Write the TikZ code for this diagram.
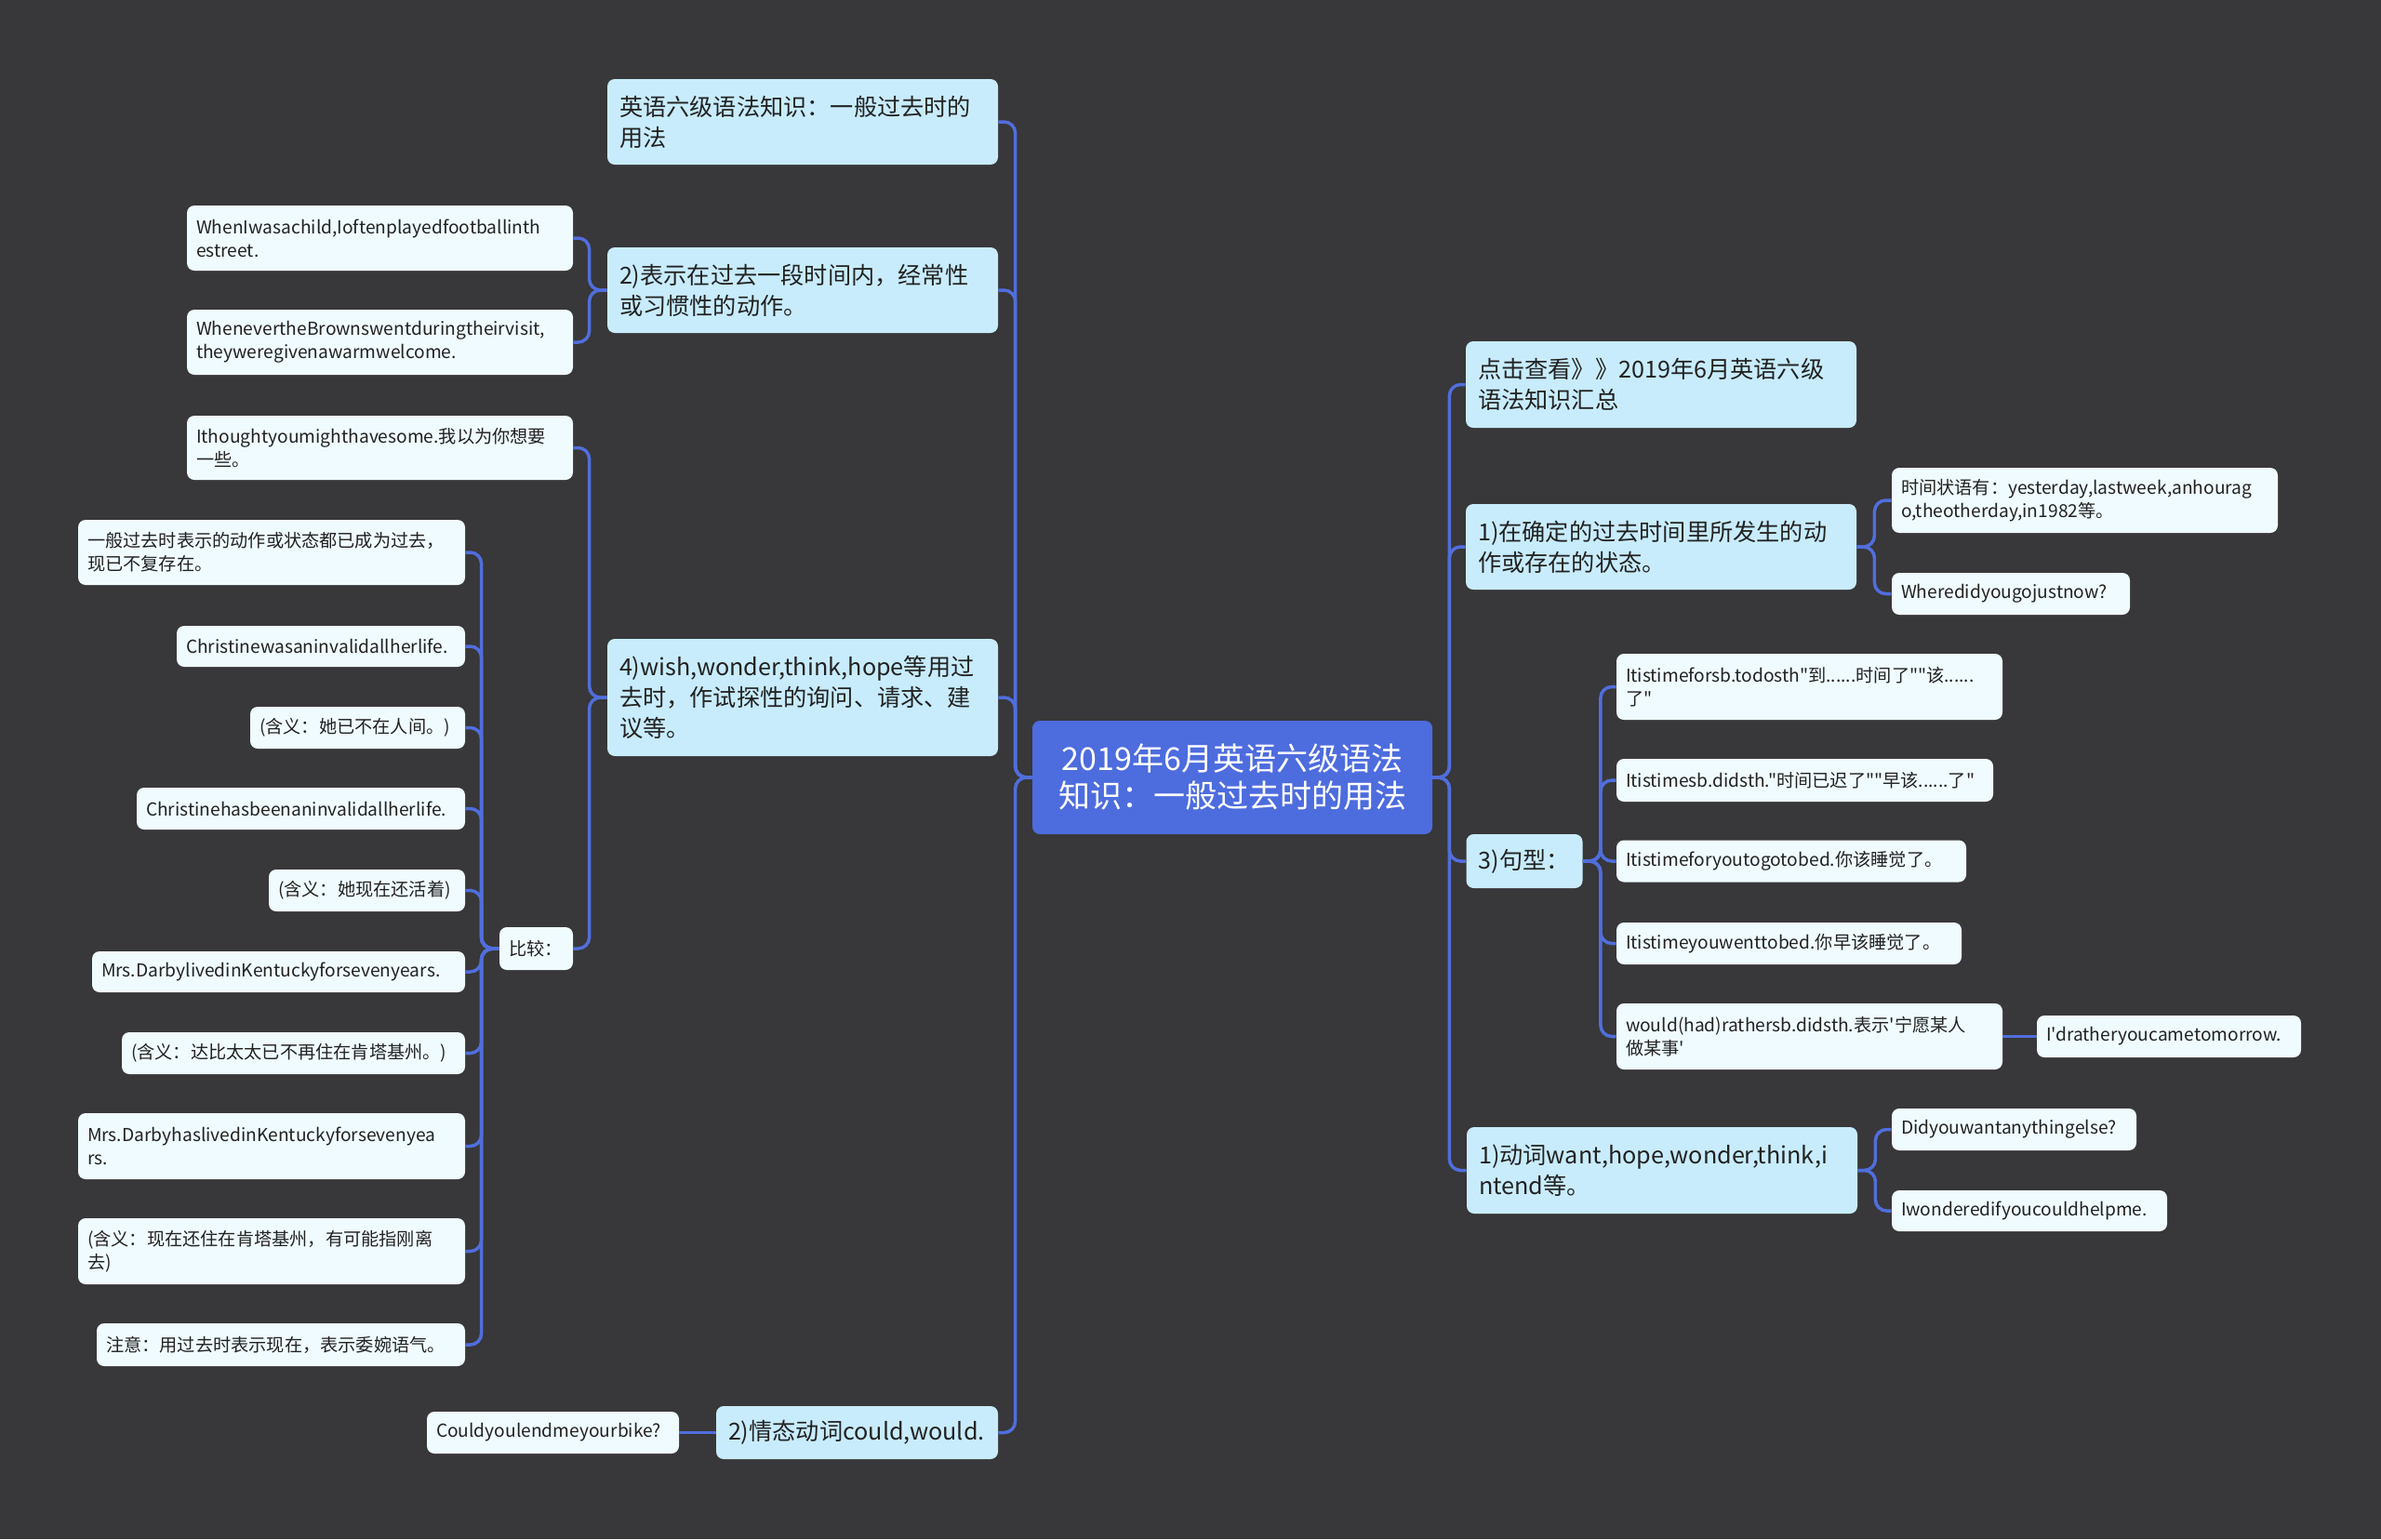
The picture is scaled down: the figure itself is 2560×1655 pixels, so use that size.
\documentclass[tikz,border=0pt]{standalone}
\usepackage{fontspec}
\newfontfamily\cjkfont{Noto Sans CJK SC}
\hyphenpenalty=10000
\exhyphenpenalty=10000

\definecolor{bggray}{RGB}{56,55,57}
\definecolor{rootblue}{RGB}{77,108,222}
\definecolor{topicblue}{RGB}{200,236,252}
\definecolor{leafblue}{RGB}{240,251,255}
\definecolor{linkblue}{RGB}{80,110,220}
\definecolor{inkgray}{RGB}{34,34,34}

\def\boxpad{5pt}
\tikzset{
  base/.style={rounded corners=4pt, inner sep=0pt, align=left, text=inkgray},
  root/.style={base, fill=rootblue, text=white, align=center, font=\cjkfont\fontsize{17}{20}\selectfont},
  topic/.style={base, fill=topicblue, font=\cjkfont\fontsize{12.6}{16.5}\selectfont, /utils/exec={\def\boxpad{6.5pt}}},
  leaf/.style={base, fill=leafblue, font=\cjkfont\fontsize{9.6}{12.5}\selectfont, /utils/exec={\def\boxpad{5pt}}},
  sized/.style 2 args={minimum width=#1*0.5pt, minimum height=#2*0.5pt,
    /utils/exec={\pgfmathsetlengthmacro\boxtext{#1*0.5pt-2*\boxpad}}, text width=\boxtext},
  link/.style={draw=linkblue, line width=1.75pt, rounded corners=6pt}
}

\begin{document}
\begin{tikzpicture}[x=0.5pt,y=-0.5pt]

% Background
\fill[bggray] (0,0) rectangle (2560,1655);

% Central topic
\node[root, sized={430}{122}] (root) at (1325,836) {2019年6月英语六级语法\\知识：一般过去时的用法};

% Left branches
\node[topic, sized={420}{92}] (usage) at (863,131) {英语六级语法知识：一般过去时的\\用法};
\node[topic, sized={420}{92}] (habit) at (863,312) {2)表示在过去一段时间内，经常性\\或习惯性的动作。};
\node[topic, sized={420}{126}] (polite) at (863,750) {4)wish,wonder,think,hope等用过\\去时，作试探性的询问、请求、建\\议等。};
\node[topic, sized={303}{57}] (modal) at (921.5,1540.5) {2)情态动词could,would.};

\node[leaf, sized={415}{70}] (child) at (408.5,256) {WhenIwasachild,Ioftenplayedfootballinth\\estreet.};
\node[leaf, sized={415}{70}] (browns) at (408.5,368) {WhenevertheBrownswentduringtheirvisit,\\theyweregivenawarmwelcome.};
\node[leaf, sized={415}{69}] (thought) at (408.5,481.5) {Ithoughtyoumighthavesome.我以为你想要\\一些。};
\node[leaf, sized={79}{46}] (compare) at (576.5,1020) {比较：};
\node[leaf, sized={271}{45}] (bike) at (594.5,1540.5) {Couldyoulendmeyourbike?};

% Compared sentences
\node[leaf, sized={416}{70}] (past) at (292,594) {一般过去时表示的动作或状态都已成为过去，\\现已不复存在。};
\node[leaf, sized={310}{44}] (wasinvalid) at (345,695) {Christinewasaninvalidallherlife.};
\node[leaf, sized={231}{45}] (notalive) at (384.5,782.5) {(含义：她已不在人间。)};
\node[leaf, sized={353}{45}] (hasbeen) at (323.5,869.5) {Christinehasbeenaninvalidallherlife.};
\node[leaf, sized={211}{45}] (alive) at (394.5,957.5) {(含义：她现在还活着)};
\node[leaf, sized={401}{44}] (lived) at (299.5,1045) {Mrs.DarbylivedinKentuckyforsevenyears.};
\node[leaf, sized={369}{45}] (moved) at (315.5,1132.5) {(含义：达比太太已不再住在肯塔基州。)};
\node[leaf, sized={416}{71}] (haslived) at (292,1232.5) {Mrs.DarbyhaslivedinKentuckyforsevenyea\\rs.};
\node[leaf, sized={416}{71}] (stilllives) at (292,1345.5) {(含义：现在还住在肯塔基州，有可能指刚离\\去)};
\node[leaf, sized={396}{46}] (note) at (302,1446) {注意：用过去时表示现在，表示委婉语气。};

% Right branches
\node[topic, sized={420}{93}] (review) at (1786,413.5) {点击查看》》2019年6月英语六级\\语法知识汇总};
\node[topic, sized={420}{92}] (definite) at (1786,588) {1)在确定的过去时间里所发生的动\\作或存在的状态。};
\node[topic, sized={125}{58}] (pattern) at (1639,926) {3)句型：};
\node[topic, sized={420}{93}] (verbs) at (1787,1258.5) {1)动词want,hope,wonder,think,i\\ntend等。};

\node[leaf, sized={415}{70}] (adverb) at (2241.5,538) {时间状语有：yesterday,lastweek,anhourag\\o,theotherday,in1982等。};
\node[leaf, sized={256}{45}] (where) at (2162,638.5) {Wheredidyougojustnow?};

\node[leaf, sized={415}{71}] (forsb) at (1945.5,738.5) {Itistimeforsb.todosth"到......时间了""该......\\了"};
\node[leaf, sized={405}{46}] (didsth) at (1940.5,839) {Itistimesb.didsth."时间已迟了""早该......了"};
\node[leaf, sized={376}{45}] (gotobed) at (1926,926) {Itistimeforyoutogotobed.你该睡觉了。};
\node[leaf, sized={371}{45}] (wentbed) at (1923.5,1014.5) {Itistimeyouwenttobed.你早该睡觉了。};
\node[leaf, sized={415}{71}] (rather) at (1945.5,1114.5) {would(had)rathersb.didsth.表示'宁愿某人\\做某事'};
\node[leaf, sized={284}{45}] (tomorrow) at (2332,1114.5) {I'dratheryoucametomorrow.};

\node[leaf, sized={263}{45}] (anything) at (2165.5,1214.5) {Didyouwantanythingelse?};
\node[leaf, sized={296}{44}] (helpme) at (2182,1302) {Iwonderedifyoucouldhelpme.};

% Connectors
\foreach \kid in {usage,habit,polite,modal}
{
  \draw[link] (root.west) -- ++(-18,0) |- (\kid.east);
}
\foreach \kid in {child,browns}
{
  \draw[link] (habit.west) -- ++(-19,0) |- (\kid.east);
}
\foreach \kid in {thought,compare}
{
  \draw[link] (polite.west) -- ++(-19,0) |- (\kid.east);
}
\foreach \kid in {past,wasinvalid,notalive,hasbeen,alive,lived,moved,haslived,stilllives,note}
{
  \draw[link] (compare.west) -- ++(-19,0) |- (\kid.east);
}
\draw[link] (modal.west) -- (bike.east);

\foreach \kid in {review,definite,pattern,verbs}
{
  \draw[link] (root.east) -- ++(18,0) |- (\kid.west);
}
\foreach \kid in {adverb,where}
{
  \draw[link] (definite.east) -- ++(19,0) |- (\kid.west);
}
\foreach \kid in {forsb,didsth,gotobed,wentbed,rather}
{
  \draw[link] (pattern.east) -- ++(19,0) |- (\kid.west);
}
\draw[link] (rather.east) -- (tomorrow.west);
\foreach \kid in {anything,helpme}
{
  \draw[link] (verbs.east) -- ++(19,0) |- (\kid.west);
}

\end{tikzpicture}
\end{document}
